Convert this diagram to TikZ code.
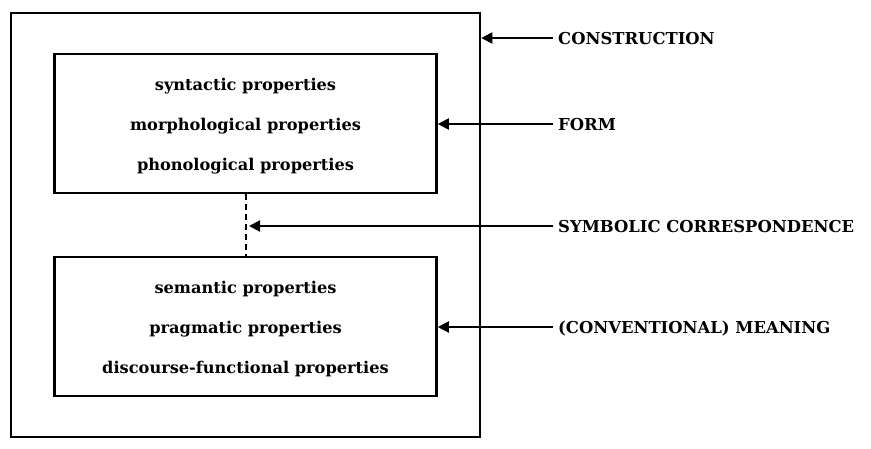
\documentclass[tikz,border=0pt]{standalone}
\usepackage{fontspec}
\setmainfont{DejaVu Serif}
\usetikzlibrary{arrows.meta}
\begin{document}
\begin{tikzpicture}[x=1pt,y=-1pt,
  boxstyle/.style={draw,line width=2.6pt,inner sep=0pt,minimum width=#1},
  txt/.style={font=\fontsize{16.2}{19}\selectfont\bfseries,inner sep=0pt,anchor=base},
  lab/.style={font=\fontsize{16.4}{19}\selectfont\bfseries,inner sep=0pt,anchor=base west},
  arr/.style={line width=2pt,-{Triangle[length=11pt,width=11pt]}}]
\useasboundingbox (0,0) rectangle (871,448);
\node[boxstyle=382pt,minimum height=139pt] (top) at (245.5,123.5) {};
\node[boxstyle=469pt,minimum height=424pt] (outer) at (245.5,225) {};
\node[boxstyle=382pt,minimum height=139pt] (bot) at (245.5,326.5) {};
\node[txt] (t1) at (245.5,90) {syntactic properties};
\node[txt] (t2) at (245.5,130) {morphological properties};
\node[txt] (t3) at (245.5,170) {phonological properties};
\node[txt] (b1) at (245.5,293) {semantic properties};
\node[txt] (b2) at (245.5,333) {pragmatic properties};
\node[txt] (b3) at (245.5,373) {discourse-functional properties};
\draw[line width=2pt,dash pattern=on 6pt off 4pt] (top.south) -- (bot.north);
\coordinate (dl) at (249,226);
\node[lab] (l1) at (558,44) {CONSTRUCTION};
\node[lab] (l2) at (558,130) {FORM};
\node[lab] (l3) at (558,232) {SYMBOLIC CORRESPONDENCE};
\node[lab] (l4) at (558,333) {(CONVENTIONAL) MEANING};
\coordinate (a1) at (553,38);
\coordinate (a2) at (553,124);
\coordinate (a3) at (553,226);
\coordinate (a4) at (553,327);
\draw[arr] (a1) -- (a1 -| outer.east);
\draw[arr] (a2) -- (a2 -| top.east);
\draw[arr] (a3) -- (dl);
\draw[arr] (a4) -- (a4 -| bot.east);
\end{tikzpicture}
\end{document}
